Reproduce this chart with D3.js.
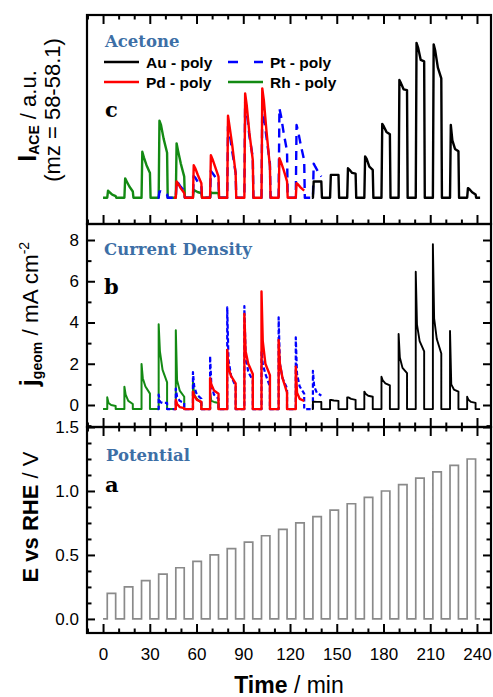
<!DOCTYPE html>
<html><head><meta charset="utf-8">
<script src="https://cdn.jsdelivr.net/npm/d3@7"></script>
<style>body{margin:0;background:#fff}</style>
</head><body>
<svg id="chart" width="493" height="697"></svg>
<script>
// ---------- DATA ----------
const pulseStart = [2.7,13.7,24.7,35.7,46.7,57.7,68.7,79.7,90.7,101.7,112.7,123.7,134.7,145.7,156.7,167.7,178.7,189.7,200.7,211.7,222.7,233.7];
const pulseWidth = 5.4;
const potentialSteps = [0.20,0.25,0.30,0.35,0.40,0.45,0.50,0.55,0.60,0.65,0.70,0.75,0.80,0.85,0.90,0.95,1.00,1.05,1.10,1.15,1.20,1.25];
const potentialSpan = [0, 242];
const xMajorTicks = [0,30,60,90,120,150,180,210,240];
const jTicks = [0,2,4,6,8];
const eTicks = [0.0,0.5,1.0,1.5];

const legendLabels = ["Au - poly","Pt - poly","Pd - poly","Rh - poly"];

// pulses covered by each electrode
const rhPulses = [1,2,3,4,5,6,7];
const ptPulses = [4,5,6,7,8,9,10,11,12,13];
const pdPulses = [5,6,7,8,9,10,11,12];
const auPulses = [13,14,15,16,17,18,19,20,21,22];
const rhSpan = [0, 80];
const ptSpan = [35, null];
const pdSpan = [45.5, null];
const auSpan = [134, 242];

// current density (mA cm-2): per pulse [peak, early, mid, end]
const jBase = -0.2;
const rhCurrent = [[0.37,0.1,0.0,-0.05],[0.89,0.5,0.2,0.05],[1.99,1.3,0.9,0.55],[3.91,2.6,1.7,1.1],[3.63,1.2,0.7,0.4],[1.1,0.5,0.3,0.1],[0.6,0.2,0.15,0.1]];
const ptCurrent = [[0.5,0.15,0.1,0.1],[0.8,0.4,0.2,0.1],[1.6,0.9,0.5,0.3],[2.37,1.0,0.5,0.3],[4.73,2.2,1.4,0.9],[4.8,2.4,1.6,1.2],[2.6,2.0,1.5,0.9],[4.25,2.0,1.3,0.8],[3.28,1.5,0.9,0.55],[1.66,0.9,0.6,0.45]];
const pdCurrent = [[0.25,0.05,-0.1,-0.15],[0.65,0.45,0.25,0.15],[1.3,1.0,0.7,0.55],[2.67,1.8,1.4,1.05],[4.41,2.6,2.0,1.5],[5.5,3.1,2.0,1.45],[3.15,2.0,1.3,0.6],[1.86,0.6,0.3,0.2]];
const auCurrent = [[0.16,0.16,0.15,0.15],[0.24,0.24,0.22,0.2],[0.37,0.37,0.3,0.25],[0.65,0.55,0.45,0.4],[1.37,1.2,1.05,0.95],[3.44,2.3,1.8,1.55],[6.46,3.9,3.1,2.6],[7.8,4.2,3.2,2.5],[3.59,1.0,0.75,0.65],[0.4,0.25,0.15,0.1]];

// acetone signal (a.u.): per pulse [peak, early, mid, end]
const aBase = 0;
const rhAcetone = [[0.45,0.35,0.2,0.1],[1.25,1.05,0.72,0.4],[2.97,2.6,2.1,1.6],[4.97,4.7,3.8,2.9],[3.51,3.0,2.2,1.36],[0.5,0.45,0.35,0.3],[0.35,0.3,0.3,0.3]];
const ptAcetone = [[0.4,0.4,0.35,0.2],[1.05,0.95,0.7,0.45],[1.4,1.3,1.0,0.75],[1.73,1.6,1.35,1.0],[4.6,4.2,3.0,1.6],[6.2,5.6,4.0,2.6],[6.0,5.2,3.9,2.2],[5.77,5.3,4.2,3.0],[4.7,4.3,3.4,2.4],[2.2,2.0,1.7,1.36]];
const pdAcetone = [[1.05,0.9,0.6,0.3],[2.1,1.9,1.45,0.93],[2.74,2.5,2.0,1.36],[5.29,4.6,3.4,1.57],[6.73,6.0,4.2,2.44],[7.06,6.3,4.3,2.0],[2.55,2.3,1.8,1.05],[0.93,0.85,0.65,0.45]];
const auAcetone = [[1.05,1.05,1.05,1.05],[1.47,1.47,1.47,1.47],[1.9,1.8,1.6,1.55],[2.66,2.5,2.0,1.8],[4.77,4.6,4.25,4.1],[7.6,7.4,7.0,6.95],[10.0,9.7,8.9,8.8],[9.9,9.5,8.4,7.7],[4.7,3.7,3.15,3.0],[0.62,0.55,0.35,0.2]];

const colors = {Au:"#000000", Pt:"#0000ff", Pd:"#ff0000", Rh:"#138a13"};

// ---------- LAYOUT ----------
const L = 87, R = 491;
const cTop = 15, cBot = 224, bBot = 427, aBot = 633;
const svg = d3.select("#chart");

const x = d3.scaleLinear().domain([-10.3, 249]).range([L, R]);
const yC = d3.scaleLinear().domain([-1.7, 11.8]).range([cBot, cTop]);
const yB = d3.scaleLinear().domain([-1.067, 8.776]).range([bBot, cBot]);
const yA = d3.scaleLinear().domain([-0.11, 1.5]).range([aBot, bBot]);

const xMinor = d3.range(-10, 250, 10).filter(v => v % 30 !== 0 && v >= -10.3 && v <= 249);

function trace(pulses, vals, span, base, offs, dropDt) {
  const pts = [[span[0], base]];
  pulses.forEach((p, i) => {
    const s = pulseStart[p - 1];
    const v = vals[i];
    pts.push([s, base]);
    for (let k = 0; k < 4; k++) pts.push([s + offs[k], v[k]]);
    const isLast = i === pulses.length - 1;
    if (!(isLast && span[1] === null)) pts.push([s + pulseWidth + dropDt, base]);
  });
  if (span[1] !== null) pts.push([span[1], base]);
  return pts;
}

const defs = svg.append("defs");
[["clipC", cTop, cBot], ["clipB", cBot, bBot], ["clipA", bBot, aBot]].forEach(([id, t, b]) => {
  defs.append("clipPath").attr("id", id).append("rect").attr("x", L).attr("y", t).attr("width", R - L).attr("height", b - t);
});

// ---------- Panel a: potential ----------
const potPts = [[potentialSpan[0], 0]];
pulseStart.forEach((s, i) => {
  potPts.push([s, 0], [s, potentialSteps[i]], [s + pulseWidth, potentialSteps[i]], [s + pulseWidth, 0]);
});
potPts.push([potentialSpan[1], 0]);
const lineA = d3.line().x(d => x(d[0])).y(d => yA(d[1]));
svg.append("path").attr("clip-path", "url(#clipA)").attr("d", lineA(potPts))
  .attr("fill", "none").attr("stroke", "#8a8a8a").attr("stroke-width", 1.7);

// ---------- Panel b: current density ----------
const offB = [0, 0.8, 2.5, pulseWidth];
const lineB = d3.line().x(d => x(d[0])).y(d => yB(d[1]));
const gB = svg.append("g").attr("clip-path", "url(#clipB)");
[
  [rhPulses, rhCurrent, rhSpan, colors.Rh, null, 2],
  [ptPulses, ptCurrent, ptSpan, colors.Pt, "4.5,2.5", 2.2],
  [pdPulses, pdCurrent, pdSpan, colors.Pd, null, 2.4],
  [auPulses, auCurrent, auSpan, colors.Au, null, 1.9]
].forEach(([p, v, sp, col, dash, w]) => {
  gB.append("path").attr("d", lineB(trace(p, v, sp, jBase, offB, 0)))
    .attr("fill", "none").attr("stroke", col).attr("stroke-width", w)
    .attr("stroke-dasharray", dash).attr("stroke-linejoin", "round");
});

// ---------- Panel c: acetone ----------
const offC = [0.5, 1.5, 3.2, pulseWidth];
const lineC = d3.line().x(d => x(d[0])).y(d => yC(d[1]));
const gC = svg.append("g").attr("clip-path", "url(#clipC)");
[
  [rhPulses, rhAcetone, rhSpan, colors.Rh, null],
  [ptPulses, ptAcetone, ptSpan, colors.Pt, "9,6"],
  [pdPulses, pdAcetone, pdSpan, colors.Pd, null],
  [auPulses, auAcetone, auSpan, colors.Au, null]
].forEach(([p, v, sp, col, dash]) => {
  gC.append("path").attr("d", lineC(trace(p, v, sp, aBase, offC, 0.4)))
    .attr("fill", "none").attr("stroke", col).attr("stroke-width", 2.4)
    .attr("stroke-dasharray", dash).attr("stroke-linejoin", "round");
});

// ---------- Axes ----------
function styleAxis(g) {
  g.select(".domain").remove();
  g.selectAll(".tick line").attr("stroke", "#000").attr("stroke-width", 2);
  g.selectAll("text").attr("font-family", "Liberation Sans, Arial, sans-serif").attr("font-size", 17).attr("fill", "#000");
}
function xAxes(gen, yPos, labels) {
  const major = svg.append("g").attr("transform", `translate(0,${yPos})`)
    .call(gen(x).tickValues(xMajorTicks).tickSize(-9).tickPadding(15).tickFormat(labels ? d3.format("d") : ""));
  styleAxis(major);
  const minor = svg.append("g").attr("transform", `translate(0,${yPos})`)
    .call(gen(x).tickValues(xMinor).tickSize(-4.5).tickFormat(""));
  styleAxis(minor);
}
xAxes(d3.axisTop, cTop, false);
xAxes(d3.axisBottom, cBot, false);
xAxes(d3.axisBottom, bBot, false);
xAxes(d3.axisTop, bBot, false);
xAxes(d3.axisBottom, aBot, true);

function yAxes(scale, major, minor, fmt) {
  const gl = svg.append("g").attr("transform", `translate(${L},0)`)
    .call(d3.axisLeft(scale).tickValues(major).tickSize(-8).tickPadding(8).tickFormat(fmt));
  styleAxis(gl);
  styleAxis(svg.append("g").attr("transform", `translate(${L},0)`)
    .call(d3.axisLeft(scale).tickValues(minor).tickSize(-4.5).tickFormat("")));
  styleAxis(svg.append("g").attr("transform", `translate(${R},0)`)
    .call(d3.axisRight(scale).tickValues(major).tickSize(-8).tickFormat("")));
  styleAxis(svg.append("g").attr("transform", `translate(${R},0)`)
    .call(d3.axisRight(scale).tickValues(minor).tickSize(-4.5).tickFormat("")));
}
yAxes(yB, jTicks, [-1,1,3,5,7], d3.format("d"));
yAxes(yA, eTicks, [0.125,0.25,0.375,0.625,0.75,0.875,1.125,1.25,1.375], d3.format(".1f"));

// frames
[[cTop, cBot], [cBot, bBot], [bBot, aBot]].forEach(([t, b]) => {
  svg.append("rect").attr("x", L).attr("y", t).attr("width", R - L).attr("height", b - t)
    .attr("fill", "none").attr("stroke", "#000").attr("stroke-width", 2.2);
});

// ---------- Text ----------
const serif = "DejaVu Serif, Liberation Serif, serif";
const sans = "Liberation Sans, Arial, sans-serif";
function note(txt, xx, yy, size, col) {
  svg.append("text").attr("x", xx).attr("y", yy).text(txt)
    .attr("font-family", serif).attr("font-weight", "bold").attr("font-size", size).attr("fill", col);
}
note("Acetone", 105, 47, 16.5, "#3d6fa6");
note("c", 105, 117, 21, "#000");
note("Current Density", 104, 255, 16.5, "#3d6fa6");
note("b", 104, 294, 21, "#000");
note("Potential", 106, 461, 16.5, "#3d6fa6");
note("a", 105, 492, 21, "#000");

// legend
const legendItems = [
  {label: legendLabels[0], col: colors.Au, dash: null, lx: 104, ly: 62},
  {label: legendLabels[1], col: colors.Pt, dash: "10,16", lx: 228, ly: 62},
  {label: legendLabels[2], col: colors.Pd, dash: null, lx: 104, ly: 82},
  {label: legendLabels[3], col: colors.Rh, dash: null, lx: 228, ly: 82}
];
legendItems.forEach(d => {
  svg.append("line").attr("x1", d.lx).attr("x2", d.lx + 35).attr("y1", d.ly).attr("y2", d.ly)
    .attr("stroke", d.col).attr("stroke-width", 2.4).attr("stroke-dasharray", d.dash);
  svg.append("text").attr("x", d.lx + 42).attr("y", d.ly + 5.5).text(d.label)
    .attr("font-family", sans).attr("font-weight", "bold").attr("font-size", 15.5).attr("fill", "#000");
});

// axis titles
const tC = svg.append("text").attr("transform", "translate(36,116) rotate(-90)")
  .attr("text-anchor", "middle").attr("font-family", sans).attr("font-size", 22);
tC.append("tspan").attr("font-weight", "bold").attr("font-size", 25).text("I");
tC.append("tspan").attr("font-weight", "bold").attr("font-size", 14).attr("dy", 3).text("ACE");
tC.append("tspan").attr("dy", -3).text(" / a.u.");
svg.append("text").attr("transform", "translate(60,110) rotate(-90)")
  .attr("text-anchor", "middle").attr("font-family", sans).attr("font-size", 22).text("(mz = 58-58.1)");

const tB = svg.append("text").attr("transform", "translate(38,314) rotate(-90)")
  .attr("text-anchor", "middle").attr("font-family", sans).attr("font-size", 22.5);
tB.append("tspan").attr("font-weight", "bold").attr("font-size", 25).text("j");
tB.append("tspan").attr("font-weight", "bold").attr("font-size", 14).attr("dy", 4).text("geom");
tB.append("tspan").attr("dy", -4).text(" / mA cm");
tB.append("tspan").attr("font-size", 14).attr("dy", -9).text("-2");

const tA = svg.append("text").attr("transform", "translate(38,517) rotate(-90)")
  .attr("text-anchor", "middle").attr("font-family", sans).attr("font-size", 22);
tA.append("tspan").attr("font-weight", "bold").text("E vs RHE");
tA.append("tspan").text(" / V");

const tX = svg.append("text").attr("x", (L + R) / 2).attr("y", 693)
  .attr("text-anchor", "middle").attr("font-family", sans).attr("font-size", 23);
tX.append("tspan").attr("font-weight", "bold").text("Time");
tX.append("tspan").text(" / min");
</script>
</body></html>
